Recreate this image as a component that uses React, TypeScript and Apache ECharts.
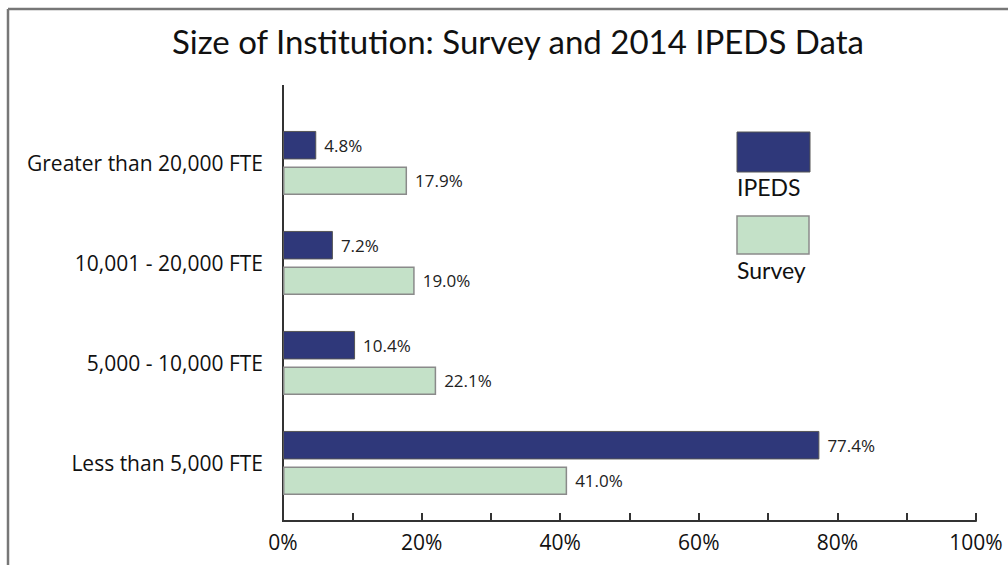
import React, { useEffect, useRef } from "react";
import * as echarts from "echarts";

const categories = [
  "Greater than 20,000 FTE",
  "10,001 - 20,000 FTE",
  "5,000 - 10,000 FTE",
  "Less than 5,000 FTE",
];
const ipeds = [4.8, 7.2, 10.4, 77.4];
const survey = [17.9, 19.0, 22.1, 41.0];
const seriesNames = ["IPEDS", "Survey"];
const titleText = "Size of Institution: Survey and 2014 IPEDS Data";

const FONT = "Lato";
const LFONT = "Open Sans";
const IPEDS_COLOR = "#2f387a";
const SURVEY_COLOR = "#c4e1c8";

export default function App() {
  const ref = useRef<HTMLDivElement>(null);
  useEffect(() => {
    if (!ref.current) return;
    const chart = echarts.init(ref.current, undefined, { renderer: "svg" });
    const label = {
      show: true,
      position: "right",
      distance: 8,
      color: "#222",
      fontFamily: LFONT,
      fontSize: 17,
      formatter: (p: any) => Number(p.value).toFixed(1) + "%",
    };
    chart.setOption({
      animation: false,
      backgroundColor: "#fff",
      title: {
        text: titleText,
        left: 167,
        top: 19,
        textStyle: { fontFamily: FONT, fontSize: 33, fontWeight: "normal", color: "#111" },
      },
      grid: { left: 283, right: 32, top: 113, bottom: 52, containLabel: false },
      xAxis: {
        type: "value",
        min: 0,
        max: 100,
        interval: 10,
        offset: 8,
        axisLine: { show: true, lineStyle: { color: "#333", width: 2 } },
        axisTick: { show: true, inside: true, length: 8, lineStyle: { color: "#333", width: 2 } },
        splitLine: { show: false },
        axisLabel: {
          margin: 10,
          fontFamily: LFONT,
          fontSize: 21,
          color: "#111",
          formatter: (v: number) => (v % 20 === 0 ? v + "%" : ""),
        },
      },
      yAxis: {
        type: "category",
        data: categories,
        inverse: true,
        axisLine: { show: false },
        axisTick: { show: false },
        axisLabel: { margin: 20, fontFamily: LFONT, fontSize: 21, color: "#111" },
      },
      series: [
        {
          name: seriesNames[0],
          type: "bar",
          data: ipeds,
          barWidth: 28.5,
          barGap: "25%",
          barCategoryGap: "36%",
          itemStyle: { color: IPEDS_COLOR, borderColor: "#555", borderWidth: 1 },
          label,
        },
        {
          name: seriesNames[1],
          type: "bar",
          data: survey,
          barWidth: 28.5,
          barGap: "25%",
          barCategoryGap: "36%",
          itemStyle: { color: SURVEY_COLOR, borderColor: "#8a8a8a", borderWidth: 1.5 },
          label,
        },
      ],
      graphic: [
        { type: "line", shape: { x1: 8, y1: 9, x2: 8, y2: 565 }, style: { stroke: "#777", lineWidth: 2.5 } },
        { type: "line", shape: { x1: 8, y1: 9, x2: 1008, y2: 9 }, style: { stroke: "#777", lineWidth: 2.5 } },
        { type: "line", shape: { x1: 283, y1: 85, x2: 283, y2: 522 }, style: { stroke: "#333", lineWidth: 2 } },
        {
          type: "rect",
          shape: { x: 737, y: 132, width: 73, height: 40 },
          style: { fill: IPEDS_COLOR, stroke: "#555", lineWidth: 1 },
        },
        {
          type: "text",
          x: 737,
          y: 175,
          style: { text: seriesNames[0], fontFamily: FONT, fontSize: 23, fill: "#111" },
        },
        {
          type: "rect",
          shape: { x: 737, y: 216, width: 72, height: 38 },
          style: { fill: SURVEY_COLOR, stroke: "#8a8a8a", lineWidth: 1.5 },
        },
        {
          type: "text",
          x: 737,
          y: 258,
          style: { text: seriesNames[1], fontFamily: FONT, fontSize: 23, fill: "#111" },
        },
      ],
    });
    return () => chart.dispose();
  }, []);
  return (
    <div
      ref={ref}
      style={{ position: "fixed", left: 0, top: 0, width: 1008, height: 565, background: "#fff" }}
    />
  );
}
